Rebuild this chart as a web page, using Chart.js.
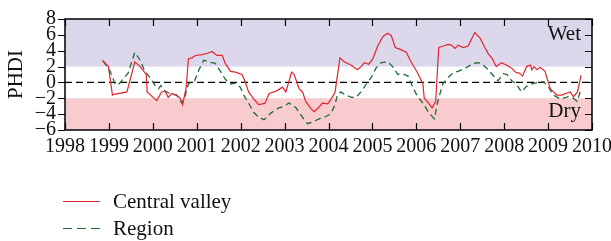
<!DOCTYPE html>
<html>
<head>
<meta charset="utf-8">
<script src="https://cdn.jsdelivr.net/npm/chart.js@4.4.1/dist/chart.umd.min.js"></script>
<style>
  body { margin: 0; background: #fff; }
  #wrap { position: relative; width: 611px; height: 241px; }
  .legend { position: absolute; left: 63px; font: 21px 'Liberation Serif', serif; color: #111; display: flex; align-items: center; }
  .legend span.line { display: inline-block; width: 37px; height: 1.3px; margin-right: 13px; }
</style>
</head>
<body>
<div id="wrap">
  <canvas id="phdi" width="611" height="241"></canvas>
  <div class="legend" style="top:189px"><span class="line" style="background:#e0262e"></span>Central valley</div>
  <div class="legend" style="top:216px"><span class="line" style="background:repeating-linear-gradient(to right,#1f6a30 0 9px,transparent 9px 14px)"></span>Region</div>
</div>
<script>
// values (fractional year, PHDI)
const centralYears = [1998.85, 1998.99, 1999.08, 1999.12, 1999.41, 1999.59, 1999.71, 1999.85, 1999.87, 2000.09,
  2000.20, 2000.28, 2000.35, 2000.43, 2000.54, 2000.62, 2000.68, 2000.76, 2000.81, 2000.89,
  2000.97, 2001.12, 2001.23, 2001.35, 2001.46, 2001.58, 2001.65, 2001.77, 2001.88, 2002.03,
  2002.11, 2002.18, 2002.30, 2002.41, 2002.55, 2002.65, 2002.76, 2002.84, 2002.95, 2003.03,
  2003.16, 2003.22, 2003.33, 2003.41, 2003.48, 2003.60, 2003.67, 2003.77, 2003.86, 2003.98,
  2004.05, 2004.15, 2004.26, 2004.36, 2004.51, 2004.66, 2004.74, 2004.82, 2004.92, 2005.01,
  2005.12, 2005.24, 2005.35, 2005.43, 2005.52, 2005.62, 2005.77, 2005.88, 2006.03, 2006.15,
  2006.18, 2006.26, 2006.36, 2006.44, 2006.51, 2006.62, 2006.72, 2006.80, 2006.88, 2006.95,
  2007.07, 2007.18, 2007.33, 2007.45, 2007.56, 2007.64, 2007.73, 2007.82, 2007.94, 2008.05,
  2008.17, 2008.28, 2008.34, 2008.42, 2008.51, 2008.60, 2008.63, 2008.68, 2008.75, 2008.82,
  2008.93, 2009.05, 2009.20, 2009.31, 2009.50, 2009.58, 2009.67, 2009.75];
const centralPhdi = [2.8, 2.0, -1.6, -1.5, -1.2, 2.6, 2.0, 1.0, -1.2, -2.3,
  -1.2, -1.1, -1.9, -1.4, -1.6, -2.0, -2.8, -0.6, 3.0, 3.1,
  3.4, 3.5, 3.65, 3.9, 3.4, 3.4, 2.4, 1.4, 1.3, 1.0,
  0.0, -1.2, -2.1, -2.8, -2.65, -1.4, -1.2, -1.0, -0.6, -1.2,
  1.3, 1.0, -0.8, -1.2, -2.4, -3.3, -3.7, -3.2, -2.6, -2.7,
  -2.2, -1.2, 3.1, 2.6, 2.2, 1.6, 2.0, 2.5, 2.3, 3.0,
  4.6, 5.8, 6.2, 5.9, 4.4, 4.2, 3.8, 2.6, 1.2, -0.2,
  -2.0, -2.5, -3.2, -2.4, 4.4, 4.6, 4.8, 4.7, 4.3, 4.7,
  4.4, 4.6, 6.3, 5.6, 4.4, 3.6, 3.0, 2.0, 2.5, 2.2,
  1.8, 1.2, 1.2, 0.8, 2.0, 2.2, 1.6, 2.0, 1.6, 1.9,
  1.4, -0.8, -1.6, -1.6, -1.2, -1.8, -1.2, 0.9];

const regionYears = [1998.87, 1999.03, 1999.14, 1999.21, 1999.29, 1999.44, 1999.59, 1999.71, 1999.82, 1999.94,
  2000.05, 2000.13, 2000.18, 2000.28, 2000.39, 2000.54, 2000.66, 2000.73, 2000.81, 2000.92,
  2000.95, 2001.05, 2001.16, 2001.27, 2001.42, 2001.54, 2001.65, 2001.77, 2001.88, 2001.99,
  2002.07, 2002.18, 2002.30, 2002.41, 2002.53, 2002.60, 2002.68, 2002.76, 2002.87, 2002.99,
  2003.10, 2003.26, 2003.41, 2003.52, 2003.63, 2003.79, 2003.94, 2004.05, 2004.15, 2004.20,
  2004.28, 2004.39, 2004.54, 2004.64, 2004.74, 2004.86, 2004.97, 2005.08, 2005.20, 2005.35,
  2005.46, 2005.58, 2005.69, 2005.81, 2005.92, 2006.03, 2006.15, 2006.28, 2006.41, 2006.49,
  2006.60, 2006.72, 2006.84, 2006.95, 2007.07, 2007.18, 2007.29, 2007.41, 2007.52, 2007.64,
  2007.73, 2007.86, 2007.98, 2008.07, 2008.17, 2008.28, 2008.39, 2008.51, 2008.62, 2008.78,
  2008.90, 2009.01, 2009.12, 2009.28, 2009.46, 2009.58, 2009.66, 2009.73];
const regionPhdi = [2.7, 1.4, -0.2, -0.3, 0.2, 1.2, 3.8, 2.8, 1.4, 0.6,
  -0.4, -0.8, -0.4, -1.1, -1.4, -1.6, -2.6, -1.8, -0.2, 0.2,
  0.2, 1.6, 2.8, 2.6, 2.4, 1.4, 0.4, -0.2, -0.1, -0.6,
  -1.6, -2.6, -3.8, -4.4, -4.7, -4.4, -3.9, -3.6, -3.2, -3.0,
  -2.6, -3.2, -4.4, -5.2, -5.0, -4.6, -4.3, -4.0, -2.8, -1.6,
  -1.2, -1.6, -1.9, -1.8, -1.2, -0.2, 0.6, 1.8, 2.5, 2.6,
  2.0, 1.0, 1.1, 0.8, -0.6, -1.8, -2.6, -3.8, -4.6, -2.4,
  -0.2, 0.6, 1.2, 1.4, 1.7, 2.0, 2.4, 2.5, 2.2, 1.6,
  1.0, 0.2, 1.1, 1.0, 0.2, -0.2, -1.2, -0.5, -0.2, 0.0,
  0.1, -0.6, -1.6, -2.1, -1.8, -2.0, -2.4, -1.2];

const yMin = -6, yMax = 8;
const wetFrom = 2, dryFrom = -2;

const serif = "'Liberation Serif', serif";

function pairs(xs, ys) {
  return xs.map((x, i) => ({ x: x, y: ys[i] }));
}

// bands, zero line, frame, inward ticks and the Wet/Dry words
const frame = {
  id: 'frame',
  beforeDatasetsDraw(chart) {
    const { ctx, chartArea: a, scales: { y } } = chart;
    ctx.save();
    ctx.fillStyle = '#dcd7eb';
    ctx.fillRect(a.left, y.getPixelForValue(yMax), a.width, y.getPixelForValue(wetFrom) - y.getPixelForValue(yMax));
    ctx.fillStyle = '#f8cbcf';
    ctx.fillRect(a.left, y.getPixelForValue(dryFrom), a.width, y.getPixelForValue(yMin) - y.getPixelForValue(dryFrom));
    ctx.strokeStyle = '#000';
    ctx.lineWidth = 1.2;
    ctx.setLineDash([7, 4]);
    ctx.beginPath();
    ctx.moveTo(a.left, y.getPixelForValue(0));
    ctx.lineTo(a.right, y.getPixelForValue(0));
    ctx.stroke();
    ctx.restore();
  },
  afterDatasetsDraw(chart) {
    const { ctx, chartArea: a, scales: { x, y } } = chart;
    ctx.save();
    ctx.strokeStyle = '#000';
    ctx.lineWidth = 1.5;
    ctx.strokeRect(a.left, a.top, a.width, a.height);
    ctx.lineWidth = 1.2;
    ctx.beginPath();
    x.ticks.forEach(t => {
      const px = Math.round(x.getPixelForValue(t.value)) + 0.5;
      ctx.moveTo(px, a.top); ctx.lineTo(px, a.top + 7);
      ctx.moveTo(px, a.bottom); ctx.lineTo(px, a.bottom - 7);
    });
    y.ticks.forEach(t => {
      const py = Math.round(y.getPixelForValue(t.value)) + 0.5;
      ctx.moveTo(a.left - 7, py); ctx.lineTo(a.left, py);
      ctx.moveTo(a.right - 7, py); ctx.lineTo(a.right, py);
    });
    ctx.stroke();
    ctx.fillStyle = '#111';
    ctx.font = '21px ' + serif;
    ctx.textAlign = 'right';
    ctx.textBaseline = 'alphabetic';
    ctx.fillText('Wet', a.right - 11, a.top + 21);
    ctx.fillText('Dry', a.right - 11, a.bottom - 13);
    ctx.restore();
  }
};

new Chart(document.getElementById('phdi'), {
  type: 'line',
  data: {
    datasets: [{
      label: 'Central valley',
      data: pairs(centralYears, centralPhdi),
      borderColor: '#e0262e',
      borderWidth: 1.2,
      pointRadius: 0,
      tension: 0
    }, {
      label: 'Region',
      data: pairs(regionYears, regionPhdi),
      borderColor: '#1f6a30',
      borderWidth: 1.3,
      borderDash: [6, 4],
      pointRadius: 0,
      tension: 0
    }]
  },
  options: {
    responsive: false,
    animation: false,
    devicePixelRatio: 1,
    layout: { padding: { top: 13, right: 19, left: 0, bottom: 0 } },
    plugins: { legend: { display: false }, tooltip: { enabled: false } },
    scales: {
      x: {
        type: 'linear',
        min: 1998, max: 2010,
        grid: { display: false, drawTicks: false },
        border: { display: false },
        ticks: { stepSize: 1, padding: 5, color: '#111', font: { family: serif, size: 20 }, maxRotation: 0, autoSkip: false,
          callback: v => String(v) },
        afterFit(s) { s.height = 111; s.paddingLeft = 0; s.paddingRight = 0; }
      },
      y: {
        min: yMin, max: yMax,
        grid: { display: false, drawTicks: false },
        border: { display: false },
        ticks: { stepSize: 2, padding: 9, color: '#111', autoSkip: false, font: { family: serif, size: 20, lineHeight: 1 },
          callback: v => v < 0 ? '\u2212' + Math.abs(v) : String(v) },
        title: { display: true, text: 'PHDI', color: '#111', font: { family: serif, size: 21 }, padding: { top: 4, bottom: 0 } },
        afterFit(s) { s.width = 65; }
      }
    }
  },
  plugins: [frame]
});
</script>
</body>
</html>
